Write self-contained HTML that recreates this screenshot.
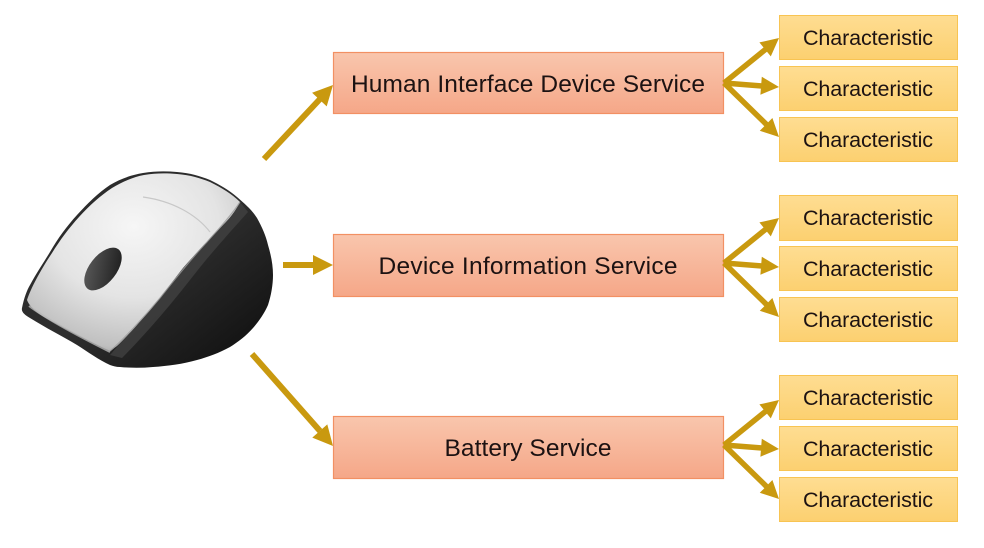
<!DOCTYPE html>
<html><head><meta charset="utf-8"><style>
html,body{margin:0;padding:0;background:#fff;}
svg{display:block;}
</style></head><body>
<svg width="984" height="548" viewBox="0 0 984 548" xmlns="http://www.w3.org/2000/svg">
<defs>
<linearGradient id="svc" x1="0" y1="0" x2="0" y2="1">
<stop offset="0" stop-color="#f9c6ad"/><stop offset="1" stop-color="#f5a788"/>
</linearGradient>
<linearGradient id="chr" x1="0" y1="0" x2="0" y2="1">
<stop offset="0" stop-color="#fedd92"/><stop offset="1" stop-color="#fcd070"/>
</linearGradient>
<radialGradient id="silver" cx="0.5" cy="0.3" r="0.8">
<stop offset="0" stop-color="#f6f6f6"/><stop offset="0.5" stop-color="#e4e4e4"/><stop offset="0.85" stop-color="#c0c0c0"/><stop offset="1" stop-color="#8a8a8a"/>
</radialGradient>
<linearGradient id="blk" x1="0" y1="0" x2="1" y2="1">
<stop offset="0" stop-color="#2a2a2a"/><stop offset="0.5" stop-color="#2e2e2e"/><stop offset="1" stop-color="#0c0c0c"/>
</linearGradient>
<linearGradient id="wheel" x1="0" y1="0" x2="1" y2="1">
<stop offset="0" stop-color="#606060"/><stop offset="1" stop-color="#181818"/>
</linearGradient>
</defs>

<!-- mouse -->
<path d="M22,308 C24,298 27,290 30,285 C37,272 44,262 50,252 C58,238 67,226 77,215 C88,203 98,193 110,185 C120,179 131,175 143,173 C155,171 166,171 177,172 C190,173 200,176 210,180 C220,185 229,190 237,197 C245,204 252,210 257,218 C262,227 266,236 268,245 C271,255 273,265 273,275 C273,285 271,296 268,305 C264,314 259,321 253,328 C246,336 238,342 230,347 C219,353 208,357 197,360 C183,364 168,366 153,367 C142,368 131,368 120,367 C116,367 113,366 110,365 C99,360 88,352 77,345 C62,336 46,328 30,318 C25,315 21,312 22,308 Z" fill="url(#blk)"/>
<path d="M240,202 C235,212 229,219 223,225 C217,231 212,236 207,242 C198,251 190,260 183,268 C175,278 168,288 160,298 C152,308 145,316 137,325 C130,333 123,340 117,347 C114,350 112,353 110,355 L122,358 C140,340 165,312 190,280 C210,254 232,230 248,212 Z" fill="#444" opacity="0.7"/>
<path d="M27,300 C31,288 40,271 52,253 C60,240 69,228 79,217 C90,205 100,196 112,188 C122,182 133,177 144,175 C156,173 166,173 177,174 C190,175 200,178 210,182 C222,188 232,194 240,202 C235,212 229,219 223,225 C217,231 212,236 207,242 C198,251 190,260 183,268 C175,278 168,288 160,298 C152,308 145,316 137,325 C130,333 123,340 117,346 C114,348 112,350 110,351 C95,344 75,334 55,323 C42,316 31,310 27,300 Z" fill="url(#silver)"/>
<path d="M29,306 C45,318 80,337 110,352" fill="none" stroke="#b8b8b8" stroke-width="2" opacity="0.8"/>
<path d="M240,202 C229,219 212,236 207,242 C190,260 168,288 160,298 C145,316 123,340 110,351" fill="none" stroke="#9a9a9a" stroke-width="1.2" opacity="0.8"/>
<path d="M143,197 C172,201 196,214 210,232" fill="none" stroke="#c8c8c8" stroke-width="1.2"/>
<ellipse cx="103" cy="269" rx="25" ry="13.5" transform="rotate(-52 103 269)" fill="url(#wheel)"/>

<!-- left arrows -->
<g stroke="#c9990f" stroke-width="6" stroke-linecap="butt" fill="none">
<line x1="264" y1="159" x2="320" y2="99"/>
<line x1="283" y1="265" x2="314" y2="265"/>
<line x1="252" y1="354" x2="320" y2="431"/>
</g>
<g fill="#c9990f">
<polygon points="333,85 312.1,92.8 326.7,106.4"/>
<polygon points="333,265 313,255 313,275"/>
<polygon points="333,446 327.3,424.4 312.3,437.6"/>
</g>

<!-- service boxes -->
<g stroke="#f29063" stroke-width="1.2" fill="url(#svc)">
<rect x="333.5" y="52.5" width="390" height="61"/>
<rect x="333.5" y="234.5" width="390" height="62"/>
<rect x="333.5" y="416.5" width="390" height="62"/>
</g>
<g font-family="'Liberation Sans', sans-serif" font-size="24.5" fill="#1c1212" text-anchor="middle">
<text x="528" y="92" textLength="354" lengthAdjust="spacing">Human Interface Device Service</text>
<text x="528" y="274" textLength="299" lengthAdjust="spacing">Device Information Service</text>
<text x="528" y="456" textLength="167" lengthAdjust="spacing">Battery Service</text>
</g>

<!-- fan arrows -->
<g id="fan">
<g stroke="#c9990f" stroke-width="5.5" fill="none">
<path d="M724,83 L766,49 M724,83 L762,86 M724,83 L767,125"/>
</g>
<g fill="#c9990f">
<polygon points="779,38 759.4,42.4 770.8,56.4"/>
<polygon points="779,87 761.8,76.7 760.4,94.7"/>
<polygon points="779,137 772.4,118 759.8,130.8"/>
</g>
</g>
<use href="#fan" transform="translate(0,180)"/>
<use href="#fan" transform="translate(0,362)"/>

<!-- characteristic boxes -->
<g stroke="#f8c452" stroke-width="1" fill="url(#chr)">
<rect x="779.5" y="15.5" width="178" height="44"/>
<rect x="779.5" y="66.5" width="178" height="44"/>
<rect x="779.5" y="117.5" width="178" height="44"/>
<rect x="779.5" y="195.5" width="178" height="45"/>
<rect x="779.5" y="246.5" width="178" height="44"/>
<rect x="779.5" y="297.5" width="178" height="44"/>
<rect x="779.5" y="375.5" width="178" height="44"/>
<rect x="779.5" y="426.5" width="178" height="44"/>
<rect x="779.5" y="477.5" width="178" height="44"/>
</g>
<g font-family="'Liberation Sans', sans-serif" font-size="21.5" fill="#1c1212" text-anchor="middle">
<text x="868" y="45" textLength="130" lengthAdjust="spacing">Characteristic</text>
<text x="868" y="96" textLength="130" lengthAdjust="spacing">Characteristic</text>
<text x="868" y="147" textLength="130" lengthAdjust="spacing">Characteristic</text>
<text x="868" y="225" textLength="130" lengthAdjust="spacing">Characteristic</text>
<text x="868" y="276" textLength="130" lengthAdjust="spacing">Characteristic</text>
<text x="868" y="327" textLength="130" lengthAdjust="spacing">Characteristic</text>
<text x="868" y="405" textLength="130" lengthAdjust="spacing">Characteristic</text>
<text x="868" y="456" textLength="130" lengthAdjust="spacing">Characteristic</text>
<text x="868" y="507" textLength="130" lengthAdjust="spacing">Characteristic</text>
</g>
</svg>
</body></html>
